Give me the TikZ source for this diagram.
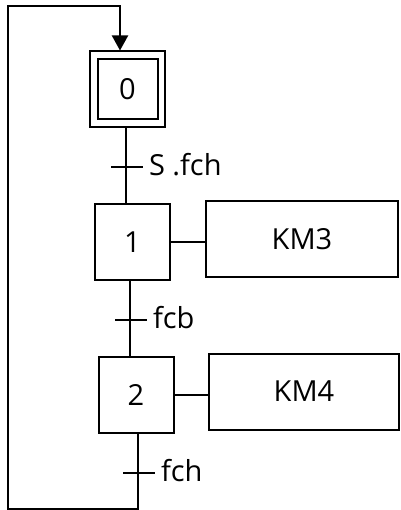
\documentclass[tikz,border=0pt]{standalone}
\usepackage{fontspec}
\setmainfont{Open Sans}
\usetikzlibrary{arrows.meta,calc}
\begin{document}
\begin{tikzpicture}[x=1pt,y=-1pt,line width=2pt,
  every node/.style={font=\fontsize{29}{34}\selectfont},
  stepbox/.style={draw,rectangle,minimum width=75pt,minimum height=76pt,inner sep=0pt},
  initbox/.style={draw,rectangle,minimum width=60pt,minimum height=60pt,inner sep=0pt},
  actbox/.style={draw,rectangle,minimum height=76pt,inner sep=0pt},
  tick/.style={line width=2pt},
  lbl/.style={anchor=west,inner sep=0pt}]
\useasboundingbox (0,0) rectangle (400,510);

% initial step (double frame)
\node[stepbox] (s0) at (127.5,89.5) {};
\node[initbox] (s0i) at (s0.center) {0};

% steps
\node[stepbox] (s1) at (132.5,242) {1};
\node[stepbox] (s2) at (136,395) {2};

% actions
\node[actbox,minimum width=192pt] (a1) at (302,239) {KM3};
\node[actbox,minimum width=190pt] (a2) at (304,391.5) {KM4};
\draw (s1.east) -- (s1.east -| a1.west);
\draw (s2.east) -- (s2.east -| a2.west);

% transitions
\coordinate (t1) at (126,167);
\coordinate (t2) at (130,320);
\coordinate (t3) at (138,473);
\draw (s0.south -| t1) -- (s1.north -| t1);
\draw (s1.south -| t2) -- (s2.north -| t2);
\draw[tick] ($(t1)+(-15,0)$) -- ($(t1)+(17,0)$);
\draw[tick] ($(t2)+(-15,0)$) -- ($(t2)+(17,0)$);
\draw[tick] ($(t3)+(-15,0)$) -- ($(t3)+(17,0)$);
\node[lbl] (l1) at ($(t1)+(22,-2)$) {S .fch};
\node[lbl] (l2) at ($(t2)+(22,-2)$) {fcb};
\node[lbl] (l3) at ($(t3)+(22,-2)$) {fch};

% loop back to the initial step
\coordinate (cbl) at (8,509);
\coordinate (ctl) at (8,6);
\coordinate (ctr) at (120,6);
\draw[-{Triangle[length=15pt,width=16pt]}] (s2.south -| t3) |- (cbl) -- (ctl) -- (ctr) -- (s0.north -| ctr);
\end{tikzpicture}
\end{document}
